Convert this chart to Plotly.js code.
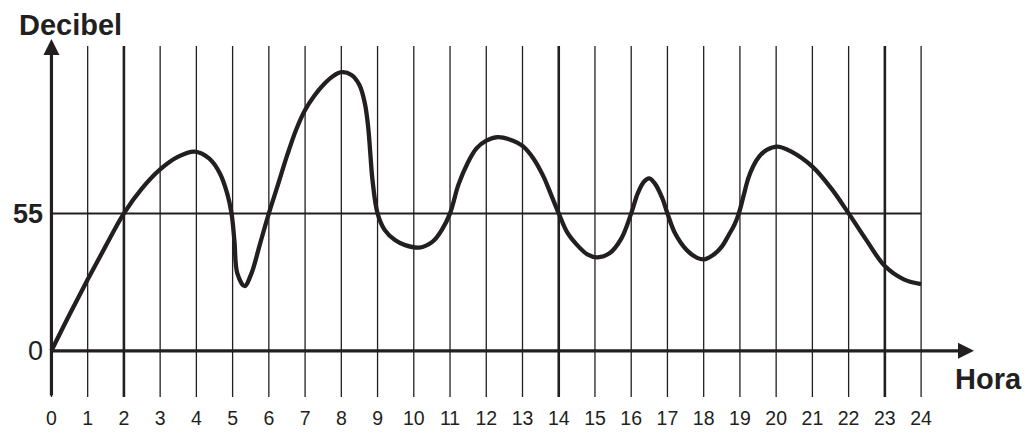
<!DOCTYPE html>
<html>
<head>
<meta charset="utf-8">
<script src="https://cdn.plot.ly/plotly-3.0.1.min.js"></script>
<style>
  html, body { margin: 0; padding: 0; background: #fff; }
  #chart { width: 1036px; height: 439px; }
</style>
</head>
<body>
<div id="chart"></div>
<script>
/* Decibel level over the day */
var HOURS = [0, 0.5, 1, 1.5, 2, 2.5, 3, 3.5, 3.95, 4.35, 4.65, 4.85, 4.97, 5.05, 5.13, 5.33, 5.52, 5.76,
  6, 6.25, 6.5, 6.75, 7, 7.25, 7.5, 7.75, 8, 8.28, 8.5, 8.65, 8.74, 8.8, 8.86,
  9, 9.2, 9.48, 9.76, 10.15, 10.52, 10.77, 11, 11.23, 11.48, 11.73, 12, 12.32, 12.74,
  13, 13.3, 13.58, 13.81, 14, 14.23, 14.51, 14.79, 15.07, 15.4, 15.73, 16, 16.18, 16.35,
  16.5, 16.65, 16.86, 17, 17.21, 17.53, 17.82, 18.02, 18.26, 18.5, 18.69, 18.85, 18.97,
  19.1, 19.23, 19.36, 19.53, 19.74, 20.04, 20.42, 21, 21.52, 22, 22.49, 23, 23.52, 24];
var DECIBELS = [0, 14.5, 28.5, 42, 55, 65, 72.6, 77.7, 79.7, 77, 71, 63, 55, 44, 31, 25.9, 31, 43,
  55, 66.4, 78, 88.4, 96.4, 102, 106.4, 109.7, 111.5, 110.4, 106.4, 99, 89.7, 79, 68.4,
  55, 48.3, 44.3, 42.3, 41.3, 43.7, 48.3, 55, 66.4, 75, 81, 84.1, 85.5, 84.1,
  82, 77, 69.7, 61.7, 55, 47.5, 42.3, 38.6, 37.4, 39, 45, 55, 63, 67.7,
  69, 67, 61, 55, 47, 40.3, 37.2, 36.6, 38.3, 41.7, 46.3, 50.5, 55,
  62, 69, 73.7, 77.7, 80.4, 81.7, 79.7, 73.7, 65, 55, 44.3, 33.9, 28.6, 26.7];

var TICK_HOURS = [0, 1, 2, 3, 4, 5, 6, 7, 8, 9, 10, 11, 12, 13, 14, 15, 16, 17, 18, 19, 20, 21, 22, 23, 24];
var TICK_LABELS = ["0", "1", "2", "3", "4", "5", "6", "7", "8", "9", "10", "11", "12",
  "13", "14", "15", "16", "17", "18", "19", "20", "21", "22", "23", "24"];
var Y_TICKS = [0, 55];
var Y_LABELS = ["0", "<b>55</b>"];
var THICK_HOURS = [2, 14, 23];   // these verticals are printed heavier
var LIMIT = 55;

var INK = "#231f20";
var FONT = "'Liberation Sans', Arial, sans-serif";
var X_MAX = 25.46, Y_MIN = -18.5, Y_MAX = 124.8, GRID_TOP = 122;

var shapes = TICK_HOURS.map(function (h) {
  return { type: "line", xref: "x", yref: "y", x0: h, x1: h, y0: Y_MIN, y1: GRID_TOP,
    line: { color: INK, width: THICK_HOURS.indexOf(h) >= 0 ? 2.6 : 1.3 }, layer: "below" };
});
// the 55 dB limit line
shapes.push({ type: "line", xref: "x", yref: "y", x0: 0, x1: 24, y0: LIMIT, y1: LIMIT,
  line: { color: INK, width: 2 }, layer: "below" });

var trace = {
  type: "scatter", mode: "lines", x: HOURS, y: DECIBELS,
  line: { color: INK, width: 4.3, shape: "spline", smoothing: 1 },
  hoverinfo: "skip", showlegend: false
};

var layout = {
  width: 1036, height: 439,
  margin: { l: 46, r: 62, t: 39, b: 42 },
  paper_bgcolor: "#fff", plot_bgcolor: "#fff",
  font: { family: FONT, color: INK },
  showlegend: false,
  xaxis: { range: [-0.15, X_MAX], showgrid: false, zeroline: false, showline: false,
    tickmode: "array", tickvals: TICK_HOURS, ticktext: TICK_LABELS, ticks: "",
    tickfont: { size: 19.5, color: INK }, ticklabelstandoff: 7, fixedrange: true },
  yaxis: { range: [Y_MIN, Y_MAX], showgrid: false, zeroline: false, showline: false,
    tickmode: "array", tickvals: Y_TICKS, ticktext: Y_LABELS, ticks: "",
    tickfont: { size: 27, color: INK }, ticklabelstandoff: 2, fixedrange: true },
  shapes: shapes,
  annotations: [
    // axes drawn as arrows
    { x: 0, y: Y_MAX, ax: 0, ay: Y_MIN, xref: "x", yref: "y", axref: "x", ayref: "y",
      text: "", font: { size: 1 }, showarrow: true, arrowhead: 2, arrowwidth: 3.2, arrowsize: 1,
      arrowcolor: INK },
    { x: X_MAX, y: 0, ax: 0, ay: 0, xref: "x", yref: "y", axref: "x", ayref: "y",
      text: "", font: { size: 1 }, showarrow: true, arrowhead: 2, arrowwidth: 3.2, arrowsize: 1,
      arrowcolor: INK },
    { xref: "paper", yref: "paper", x: 0.026, y: 1.039, xanchor: "center", yanchor: "middle",
      text: "<b>Decibel</b>", showarrow: false, font: { size: 29, color: INK } },
    { xref: "paper", yref: "paper", x: 1.016, y: 0.05, xanchor: "center", yanchor: "middle",
      text: "<b>Hora</b>", showarrow: false, font: { size: 29, color: INK } }
  ]
};

Plotly.newPlot("chart", [trace], layout, { displayModeBar: false, staticPlot: true });
</script>
</body>
</html>
